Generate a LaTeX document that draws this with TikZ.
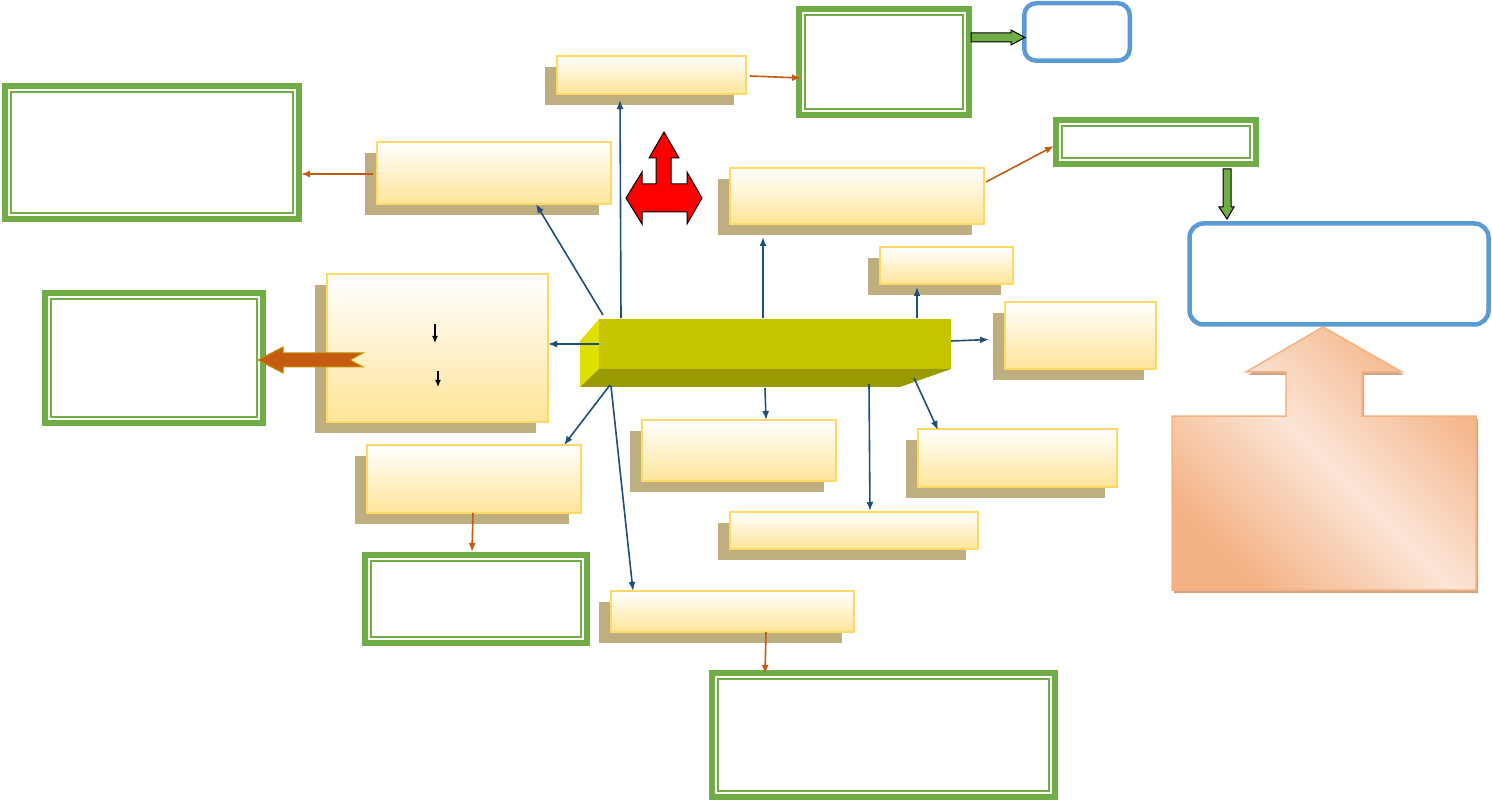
\documentclass[tikz,border=0pt]{standalone}
\usetikzlibrary{calc,fit,arrows.meta}
\definecolor{gr}{HTML}{70AD47}
\definecolor{bl}{HTML}{5B9BD5}
\definecolor{nav}{HTML}{1F4E79}
\definecolor{org}{HTML}{C55A11}
\definecolor{ogold}{HTML}{BF9000}
\definecolor{ybd}{HTML}{FFD966}
\definecolor{ylo}{HTML}{FFE599}
\definecolor{shd}{RGB}{191,174,127}
\definecolor{barf}{RGB}{196,196,0}
\definecolor{barl}{RGB}{224,224,0}
\definecolor{barb}{RGB}{153,153,0}
\definecolor{pd}{HTML}{F4B183}
\definecolor{pl}{HTML}{FBE5D6}
\definecolor{psh}{RGB}{205,165,135}
\newcommand\ybx[5]{\fill[shd] (#2-12,#3+11) rectangle (#4-12,#5+11);
  \node[ybox, fit={(#2,#3) (#4,#5)}] (#1) {};}
\newcommand\gbx[5]{\node[fit={(#2,#3) (#4,#5)}, inner sep=0pt, outer sep=0pt] (#1) {};
  \draw[gr, line width=6pt] ($(#1.north west)+(3,3)$) rectangle ($(#1.south east)+(-3,-3)$);
  \draw[gr, line width=2pt] ($(#1.north west)+(9,9)$) rectangle ($(#1.south east)+(-9,-9)$);}
\begin{document}
\begin{tikzpicture}[x=1pt,y=-1pt,
  conn/.style={nav, line width=1.6pt, -{Latex[length=9pt,width=7pt]}},
  oconn/.style={org, line width=1.6pt, -{Latex[length=9pt,width=7pt]}},
  ybox/.style={draw=ybd, line width=1.5pt, top color=white, bottom color=ylo, inner sep=0pt, outer sep=0pt},
  rbox/.style={draw=bl, line width=4.5pt, rounded corners=12pt, inner sep=0pt, outer sep=0pt},
  garrow/.style={fill=gr, draw=black, line width=1pt}]
\useasboundingbox (0,0) rectangle (1492,802);

% yellow boxes
\ybx{A}{557}{56}{746}{94}
\ybx{B}{377}{142}{611}{204}
\ybx{C}{730}{168}{984}{224}
\ybx{D}{880}{247}{1013}{284}
\ybx{E}{1005}{302}{1156}{369}
\ybx{F}{327}{274}{548}{422}
\ybx{G}{642}{420}{836}{481}
\ybx{H}{918}{429}{1117}{487}
\ybx{I}{367}{445}{581}{513}
\ybx{J}{730}{512}{978}{549}
\ybx{K}{611}{591}{854}{632}

% green double boxes
\gbx{GA}{796}{6}{972}{118}
\gbx{GB}{2}{83}{302}{222}
\gbx{GC}{1053}{117}{1259}{167}
\gbx{GD}{42}{290}{266}{426}
\gbx{GE}{362}{552}{590}{646}
\gbx{GF}{709}{670}{1058}{800}

% blue rounded boxes
\node[rbox, fit={(1024.25,3.25) (1129.75,60.75)}] (BL1) {};
\node[rbox, rounded corners=14pt, fit={(1189.5,223.5) (1488.5,324.5)}] (BL2) {};

% central 3D bar
\node[fit={(599,319) (951,369)}, inner sep=0pt, outer sep=0pt, fill=barf] (bar) {};
\fill[barl] (bar.north west) -- (580,341) -- (580,387) -- (bar.south west) -- cycle;
\fill[barb] (bar.south west) -- (bar.south east) -- (900,387) -- (580,387) -- cycle;

% blue connectors
\draw[conn] ($(bar.north west)+(4,-4)$) -- ($(B.south west)+(159,0)$);
\draw[conn] ($(bar.north west)+(22,-1)$) -- ($(A.south west)+(63,6)$);
\draw[conn] ($(bar.north west)+(164,-1)$) -- ($(C.south west)+(33,13)$);
\draw[conn] ($(bar.north west)+(318,-1)$) -- ($(D.south west)+(37,3)$);
\draw[conn] ($(bar.east)+(0,-3)$) -- ($(E.west)+(-16,4)$);
\draw[conn] (bar.west) -- ($(F.east)+(0,-4)$);
\draw[conn] ($(bar.south west)+(11,16)$) -- ($(I.north east)+(-17,0)$);
\draw[conn] ($(bar.south west)+(12,17)$) -- ($(K.north west)+(22,0)$);
\draw[conn] ($(bar.south)+(-10,19)$) -- ($(G.north west)+(124,0)$);
\draw[conn] ($(bar.south west)+(270,15)$) -- ($(J.north west)+(140,-1)$);
\draw[conn] ($(bar.south east)+(-37,9)$) -- ($(H.north west)+(20,1)$);

% orange connectors
\draw[oconn] ($(A.east)+(4,1)$) -- ($(GA.west)+(5,16)$);
\draw[oconn] ($(B.west)+(-4,1)$) -- ($(GB.east)+(-1,21.5)$);
\draw[oconn] ($(C.east)+(2,-14)$) -- ($(GC.west)+(1,4)$);
\draw[oconn] ($(I.south west)+(106,0)$) -- ($(GE.north west)+(110,0)$);
\draw[oconn] ($(K.south west)+(155,0)$) -- ($(GF.north west)+(56,4)$);

% small arrows inside F
\draw[-{Latex[length=7pt,width=6pt]}, line width=1.2pt] ($(F.north west)+(108,50)$) -- ($(F.north west)+(108,69)$);
\draw[-{Latex[length=7pt,width=6pt]}, line width=1.2pt] ($(F.north west)+(111,97)$) -- ($(F.north west)+(111,113)$);

% green block arrows
\draw[garrow] (971,33) -- (1011,33) -- (1011,30) -- (1025,37.5) -- (1011,45) -- (1011,42) -- (971,42) -- cycle;
\draw[garrow] (1223,169) -- (1231,169) -- (1231,207) -- (1234,207) -- (1227,219) -- (1219,207) -- (1223,207) -- cycle;

% orange block arrow
\draw[fill=org, draw=ogold, line width=1pt] (258,360) -- (283,347) -- (283,353) -- (363,353) -- (350,360) -- (363,367) -- (283,367) -- (283,373) -- cycle;

% red three-way arrow
\draw[fill=red, draw=black, line width=1pt] (664,132) -- (679,158) -- (671,158) -- (671,184) -- (687,184) -- (687,172) -- (702,198) -- (687,224) -- (687,212) -- (642,212) -- (642,224) -- (626,198) -- (642,172) -- (642,184) -- (656,184) -- (656,158) -- (649,158) -- cycle;

% peach up-arrow callout
\fill[psh, shift={(2,3)}] (1172,416) -- (1286,416) -- (1286,372) -- (1246,372) -- (1323,327) -- (1402,372) -- (1362,372) -- (1362,416) -- (1476,416) -- (1476,590) -- (1172,590) -- cycle;
\path[draw=pd, line width=1.5pt, top color=pd, bottom color=pd, middle color=pl, shading angle=135] (1172,416) -- (1286,416) -- (1286,372) -- (1246,372) -- (1323,327) -- (1402,372) -- (1362,372) -- (1362,416) -- (1476,416) -- (1476,590) -- (1172,590) -- cycle;
\end{tikzpicture}
\end{document}
